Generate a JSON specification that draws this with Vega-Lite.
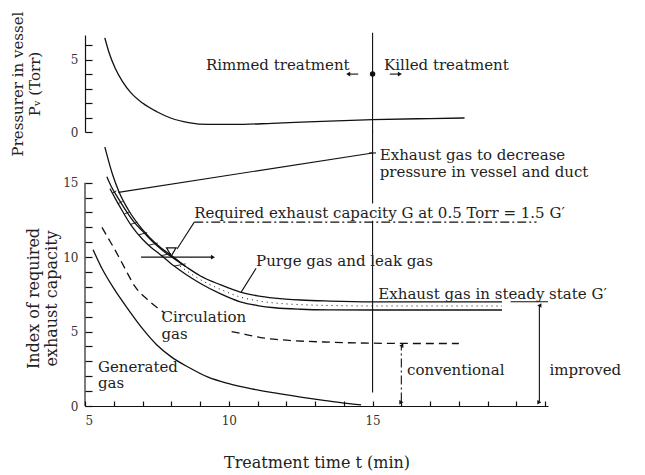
{
  "$schema": "https://vega.github.io/schema/vega-lite/v6.json",
  "background": "white",
  "padding": {"left": 10, "top": 11, "right": 5, "bottom": 5},
  "spacing": 15,
  "bounds": "flush",
  "config": {
    "view": {"stroke": null},
    "font": "DejaVu Serif",
    "axis": {
      "grid": false,
      "domainColor": "#111",
      "tickColor": "#111",
      "labelColor": "#333",
      "titleColor": "#222",
      "labelFont": "DejaVu Serif",
      "titleFont": "DejaVu Serif",
      "labelFontSize": 12,
      "titleFontSize": 16,
      "titleFontWeight": "normal",
      "domainWidth": 1.2,
      "tickWidth": 1.2,
      "labelOverlap": false
    },
    "line": {"color": "#111", "strokeWidth": 1.3},
    "rule": {"color": "#111", "strokeWidth": 1.1},
    "text": {"color": "#222", "fontSize": 15, "font": "DejaVu Serif", "baseline": "middle", "align": "left"}
  },
  "datasets": {
    "pressure": [
      {"t": 5.69, "p": 6.5}, {"t": 5.85, "p": 5.4}, {"t": 6.05, "p": 4.4}, {"t": 6.3, "p": 3.5},
      {"t": 6.6, "p": 2.7}, {"t": 7.0, "p": 2.0}, {"t": 7.5, "p": 1.4}, {"t": 8.0, "p": 0.95},
      {"t": 8.6, "p": 0.65}, {"t": 9.3, "p": 0.52}, {"t": 10.2, "p": 0.52}, {"t": 11.5, "p": 0.6},
      {"t": 13.0, "p": 0.72}, {"t": 15.0, "p": 0.85}, {"t": 17.0, "p": 0.93}, {"t": 18.2, "p": 0.97}
    ],
    "top_segments": [
      {"t": 15, "p": 0, "t2": 15, "p2": 6.85},
      {"t": 14.15, "p": 4.0, "t2": 14.5, "p2": 4.0},
      {"t": 15.6, "p": 4.0, "t2": 15.95, "p2": 4.0}
    ],
    "top_heads": [
      {"t": 14.15, "p": 4.0, "dir": "left"},
      {"t": 15.95, "p": 4.0, "dir": "right"}
    ],
    "top_dot": [{"t": 15, "p": 4.0}],
    "top_labels": [
      {"t": 14.2, "p": 4.65, "label": "Rimmed treatment", "side": "before"},
      {"t": 15.4, "p": 4.65, "label": "Killed treatment", "side": "after"}
    ],
    "curves": [
      {"name": "pressure-down", "t": 5.69, "v": 17.4}, {"name": "pressure-down", "t": 5.8, "v": 16.6},
      {"name": "pressure-down", "t": 5.95, "v": 15.6}, {"name": "pressure-down", "t": 6.18, "v": 14.4},
      {"name": "pressure-down", "t": 6.5, "v": 13.2}, {"name": "pressure-down", "t": 7.0, "v": 11.85},
      {"name": "pressure-down", "t": 7.5, "v": 10.85}, {"name": "pressure-down", "t": 8.05, "v": 10.05},
      {"name": "pressure-down", "t": 8.5, "v": 9.37},
      {"name": "band-upper", "t": 5.76, "v": 15.4}, {"name": "band-upper", "t": 5.9, "v": 14.8},
      {"name": "band-upper", "t": 6.14, "v": 14.0}, {"name": "band-upper", "t": 6.4, "v": 13.2},
      {"name": "band-upper", "t": 6.73, "v": 12.3}, {"name": "band-upper", "t": 7.0, "v": 11.75},
      {"name": "band-upper", "t": 7.32, "v": 11.1}, {"name": "band-upper", "t": 7.7, "v": 10.45},
      {"name": "band-upper", "t": 8.1, "v": 9.9}, {"name": "band-upper", "t": 8.5, "v": 9.37},
      {"name": "band-upper", "t": 9.0, "v": 8.75}, {"name": "band-upper", "t": 9.7, "v": 8.15},
      {"name": "band-upper", "t": 10.4, "v": 7.65}, {"name": "band-upper", "t": 11.0, "v": 7.4},
      {"name": "band-upper", "t": 11.6, "v": 7.25}, {"name": "band-upper", "t": 12.5, "v": 7.12},
      {"name": "band-upper", "t": 13.5, "v": 7.05}, {"name": "band-upper", "t": 15.0, "v": 7.0},
      {"name": "band-upper", "t": 17.0, "v": 7.0}, {"name": "band-upper", "t": 19.5, "v": 7.0},
      {"name": "band-lower", "t": 5.87, "v": 14.6}, {"name": "band-lower", "t": 6.05, "v": 13.95},
      {"name": "band-lower", "t": 6.3, "v": 13.1}, {"name": "band-lower", "t": 6.6, "v": 12.15},
      {"name": "band-lower", "t": 7.0, "v": 11.2}, {"name": "band-lower", "t": 7.3, "v": 10.65},
      {"name": "band-lower", "t": 7.6, "v": 10.2}, {"name": "band-lower", "t": 8.1, "v": 9.4},
      {"name": "band-lower", "t": 8.5, "v": 8.85}, {"name": "band-lower", "t": 9.0, "v": 8.25},
      {"name": "band-lower", "t": 9.7, "v": 7.55}, {"name": "band-lower", "t": 10.4, "v": 7.0},
      {"name": "band-lower", "t": 11.0, "v": 6.75}, {"name": "band-lower", "t": 11.6, "v": 6.6},
      {"name": "band-lower", "t": 12.5, "v": 6.5}, {"name": "band-lower", "t": 13.5, "v": 6.46},
      {"name": "band-lower", "t": 15.0, "v": 6.45}, {"name": "band-lower", "t": 17.0, "v": 6.45},
      {"name": "band-lower", "t": 19.5, "v": 6.45},
      {"name": "generated", "t": 5.28, "v": 10.5}, {"name": "generated", "t": 5.6, "v": 9.2},
      {"name": "generated", "t": 6.0, "v": 7.9}, {"name": "generated", "t": 6.5, "v": 6.5},
      {"name": "generated", "t": 7.0, "v": 5.2}, {"name": "generated", "t": 7.5, "v": 4.1},
      {"name": "generated", "t": 8.0, "v": 3.3}, {"name": "generated", "t": 8.6, "v": 2.6},
      {"name": "generated", "t": 9.26, "v": 1.95}, {"name": "generated", "t": 10.0, "v": 1.5},
      {"name": "generated", "t": 10.8, "v": 1.15}, {"name": "generated", "t": 11.6, "v": 0.88},
      {"name": "generated", "t": 12.5, "v": 0.6}, {"name": "generated", "t": 13.3, "v": 0.38},
      {"name": "generated", "t": 14.0, "v": 0.2}, {"name": "generated", "t": 14.6, "v": 0.08}
    ],
    "circulation": [
      {"seg": "a", "t": 5.59, "v": 12.0}, {"seg": "a", "t": 5.8, "v": 11.3}, {"seg": "a", "t": 6.04, "v": 10.5},
      {"seg": "a", "t": 6.4, "v": 9.2}, {"seg": "a", "t": 6.73, "v": 8.05}, {"seg": "a", "t": 7.2, "v": 7.1},
      {"seg": "a", "t": 7.77, "v": 6.25},
      {"seg": "b", "t": 10.1, "v": 5.0}, {"seg": "b", "t": 10.6, "v": 4.8}, {"seg": "b", "t": 11.1, "v": 4.6},
      {"seg": "b", "t": 12.0, "v": 4.42}, {"seg": "b", "t": 13.3, "v": 4.3}, {"seg": "b", "t": 15.0, "v": 4.22},
      {"seg": "b", "t": 16.5, "v": 4.2}, {"seg": "b", "t": 18.0, "v": 4.2}
    ],
    "band_dots": [
      {"t": 8.3, "v": 9.4}, {"t": 9.0, "v": 8.5}, {"t": 9.7, "v": 7.85}, {"t": 10.4, "v": 7.32},
      {"t": 11.0, "v": 7.07}, {"t": 11.6, "v": 6.92}, {"t": 12.5, "v": 6.81}, {"t": 13.5, "v": 6.75},
      {"t": 15.0, "v": 6.72}, {"t": 19.5, "v": 6.72}
    ],
    "hatch": [
      {"t": 5.953, "v": 14.3, "t2": 6.09, "v2": 14.45},
      {"t": 6.153, "v": 13.6, "t2": 6.31, "v2": 13.75},
      {"t": 6.363, "v": 12.9, "t2": 6.55, "v2": 13.05},
      {"t": 6.584, "v": 12.2, "t2": 6.82, "v2": 12.35},
      {"t": 6.874, "v": 11.5, "t2": 7.16, "v2": 11.65},
      {"t": 7.218, "v": 10.8, "t2": 7.53, "v2": 10.95},
      {"t": 7.66, "v": 10.1, "t2": 7.99, "v2": 10.25},
      {"t": 8.1, "v": 9.4, "t2": 8.5, "v2": 9.55}
    ],
    "segments": [
      {"kind": "solid", "t": 6.16, "v": 14.35, "t2": 15.0, "v2": 17.0},
      {"kind": "solid", "t": 14.88, "v": 17.0, "t2": 15.12, "v2": 17.0},
      {"kind": "solid", "t": 15, "v": 13.6, "t2": 15, "v2": 18.5},
      {"kind": "solid", "t": 15, "v": 0.9, "t2": 15, "v2": 12.45},
      {"kind": "solid", "t": 8.2, "v": 10.55, "t2": 8.8, "v2": 12.35},
      {"kind": "solid", "t": 6.95, "v": 10.0, "t2": 9.4, "v2": 10.0},
      {"kind": "solid", "t": 10.43, "v": 7.65, "t2": 10.95, "v2": 9.25},
      {"kind": "solid", "t": 20.8, "v": 0.3, "t2": 20.8, "v2": 6.7},
      {"kind": "solid", "t": 19.8, "v": 7.0, "t2": 21.1, "v2": 7.0},
      {"kind": "solid", "t": 5, "v": 0, "t2": 5, "v2": 15},
      {"kind": "dashed", "t": 8.8, "v": 12.35, "t2": 20.7, "v2": 12.35},
      {"kind": "dashed", "t": 16.0, "v": 0.3, "t2": 16.0, "v2": 4.0}
    ],
    "heads": [
      {"t": 9.45, "v": 10.0, "dir": "right"},
      {"t": 20.8, "v": 6.75, "dir": "up"},
      {"t": 20.8, "v": 0.25, "dir": "down"},
      {"t": 16.0, "v": 4.05, "dir": "up"},
      {"t": 16.0, "v": 0.25, "dir": "down"}
    ],
    "level_marker": [{"t": 8.0, "v": 10.35}],
    "labels": [
      {"t": 15.25, "v": 16.85, "label": "Exhaust gas to decrease"},
      {"t": 15.25, "v": 15.7, "label": "pressure in vessel and duct"},
      {"t": 8.8, "v": 12.95, "label": "Required exhaust capacity G at 0.5 Torr = 1.5 G′"},
      {"t": 10.95, "v": 9.75, "label": "Purge gas and leak gas"},
      {"t": 15.2, "v": 7.55, "label": "Exhaust gas in steady state G′"},
      {"t": 7.66, "v": 5.95, "label": "Circulation"},
      {"t": 7.66, "v": 4.85, "label": "gas"},
      {"t": 5.45, "v": 2.65, "label": "Generated"},
      {"t": 5.45, "v": 1.55, "label": "gas"},
      {"t": 16.2, "v": 2.4, "label": "conventional"},
      {"t": 21.15, "v": 2.45, "label": "improved"}
    ]
  },
  "vconcat": [
    {
      "width": 463,
      "height": 97,
      "layer": [
        {
          "data": {"name": "pressure"},
          "mark": {"type": "line", "interpolate": "monotone"},
          "encoding": {
            "x": {"field": "t", "type": "quantitative", "scale": {"domain": [5, 21.1], "nice": false, "zero": false}, "axis": null},
            "y": {
              "field": "p", "type": "quantitative",
              "scale": {"domain": [0, 6.7], "nice": false},
              "axis": {
                "values": [0, 1, 2, 3, 4, 5, 6],
                "tickCount": 100,
                "format": "d",
                "labelExpr": "datum.value == 0 || datum.value == 5 ? datum.label : ''",
                "labelOverlap": false,
                "tickSize": -7,
                "labelPadding": 14,
                "title": ["Pressurer in vessel", "Pᵥ (Torr)"],
                "titleFontSize": 15,
                "titlePadding": 28
              }
            }
          }
        },
        {
          "data": {"name": "top_segments"},
          "mark": {"type": "rule"},
          "encoding": {
            "x": {"field": "t", "type": "quantitative", "axis": null},
            "y": {"field": "p", "type": "quantitative"},
            "x2": {"field": "t2"},
            "y2": {"field": "p2"}
          }
        },
        {
          "data": {"name": "top_heads"},
          "mark": {"type": "point", "filled": true, "color": "#111", "size": 22, "opacity": 1},
          "encoding": {
            "x": {"field": "t", "type": "quantitative", "axis": null},
            "y": {"field": "p", "type": "quantitative"},
            "shape": {"field": "dir", "type": "nominal", "scale": {"domain": ["left", "right"], "range": ["triangle-left", "triangle-right"]}, "legend": null}
          }
        },
        {
          "data": {"name": "top_dot"},
          "mark": {"type": "circle", "color": "#111", "size": 30, "opacity": 1},
          "encoding": {
            "x": {"field": "t", "type": "quantitative", "axis": null},
            "y": {"field": "p", "type": "quantitative"}
          }
        },
        {
          "data": {"name": "top_labels"},
          "transform": [{"filter": "datum.side == 'before'"}],
          "mark": {"type": "text", "align": "right"},
          "encoding": {
            "x": {"field": "t", "type": "quantitative", "axis": null},
            "y": {"field": "p", "type": "quantitative"},
            "text": {"field": "label"}
          }
        },
        {
          "data": {"name": "top_labels"},
          "transform": [{"filter": "datum.side == 'after'"}],
          "mark": {"type": "text", "align": "left"},
          "encoding": {
            "x": {"field": "t", "type": "quantitative", "axis": null},
            "y": {"field": "p", "type": "quantitative"},
            "text": {"field": "label"}
          }
        }
      ]
    },
    {
      "width": 463,
      "height": 259,
      "layer": [
        {
          "data": {"name": "curves"},
          "mark": {"type": "line", "interpolate": "monotone"},
          "encoding": {
            "x": {
              "field": "t", "type": "quantitative",
              "scale": {"domain": [5, 21.1], "nice": false, "zero": false},
              "axis": {
                "values": [5, 6, 7, 8, 9, 10, 11, 12, 13, 14, 15, 16, 17, 18, 19, 20, 21],
                "tickCount": 100,
                "format": "d",
                "labelExpr": "datum.value == 5 || datum.value == 10 || datum.value == 15 ? datum.label : ''",
                "labelOverlap": false,
                "tickSize": -5,
                "labelPadding": 14,
                "title": "Treatment time t (min)",
                "titlePadding": 28
              }
            },
            "y": {
              "field": "v", "type": "quantitative",
              "scale": {"domain": [0, 17.4], "nice": false},
              "axis": {
                "values": [0, 1, 2, 3, 4, 5, 6, 7, 8, 9, 10, 11, 12, 13, 14, 15],
                "tickCount": 100,
                "format": "d",
                "labelExpr": "datum.value % 5 == 0 ? datum.label : ''",
                "labelOverlap": false,
                "domain": false,
                "tickSize": -7,
                "labelPadding": 14,
                "title": ["Index of required", "exhaust capacity"],
                "titlePadding": 3,
                "titleY": 151
              }
            },
            "detail": {"field": "name"}
          }
        },
        {
          "data": {"name": "circulation"},
          "mark": {"type": "line", "interpolate": "monotone", "strokeDash": [8, 5]},
          "encoding": {
            "x": {"field": "t", "type": "quantitative"},
            "y": {"field": "v", "type": "quantitative"},
            "detail": {"field": "seg"}
          }
        },
        {
          "data": {"name": "band_dots"},
          "mark": {"type": "line", "interpolate": "monotone", "strokeDash": [1, 4], "strokeWidth": 1},
          "encoding": {
            "x": {"field": "t", "type": "quantitative"},
            "y": {"field": "v", "type": "quantitative"}
          }
        },
        {
          "data": {"name": "hatch"},
          "mark": {"type": "rule", "strokeWidth": 0.9},
          "encoding": {
            "x": {"field": "t", "type": "quantitative"},
            "y": {"field": "v", "type": "quantitative"},
            "x2": {"field": "t2"},
            "y2": {"field": "v2"}
          }
        },
        {
          "data": {"name": "segments"},
          "transform": [{"filter": "datum.kind == 'solid'"}],
          "mark": {"type": "rule"},
          "encoding": {
            "x": {"field": "t", "type": "quantitative"},
            "y": {"field": "v", "type": "quantitative"},
            "x2": {"field": "t2"},
            "y2": {"field": "v2"}
          }
        },
        {
          "data": {"name": "segments"},
          "transform": [{"filter": "datum.kind == 'dashed'"}],
          "mark": {"type": "rule", "strokeDash": [9, 3, 2, 3]},
          "encoding": {
            "x": {"field": "t", "type": "quantitative"},
            "y": {"field": "v", "type": "quantitative"},
            "x2": {"field": "t2"},
            "y2": {"field": "v2"}
          }
        },
        {
          "data": {"name": "heads"},
          "mark": {"type": "point", "filled": true, "color": "#111", "size": 22, "opacity": 1},
          "encoding": {
            "x": {"field": "t", "type": "quantitative"},
            "y": {"field": "v", "type": "quantitative"},
            "shape": {"field": "dir", "type": "nominal", "scale": {"domain": ["right", "up", "down"], "range": ["triangle-right", "triangle-up", "triangle-down"]}, "legend": null}
          }
        },
        {
          "data": {"name": "level_marker"},
          "mark": {"type": "point", "shape": "triangle-down", "filled": false, "color": "#111", "size": 90, "strokeWidth": 1.2, "opacity": 1},
          "encoding": {
            "x": {"field": "t", "type": "quantitative"},
            "y": {"field": "v", "type": "quantitative"}
          }
        },
        {
          "data": {"name": "labels"},
          "mark": {"type": "text"},
          "encoding": {
            "x": {"field": "t", "type": "quantitative"},
            "y": {"field": "v", "type": "quantitative"},
            "text": {"field": "label"}
          }
        }
      ]
    }
  ]
}
